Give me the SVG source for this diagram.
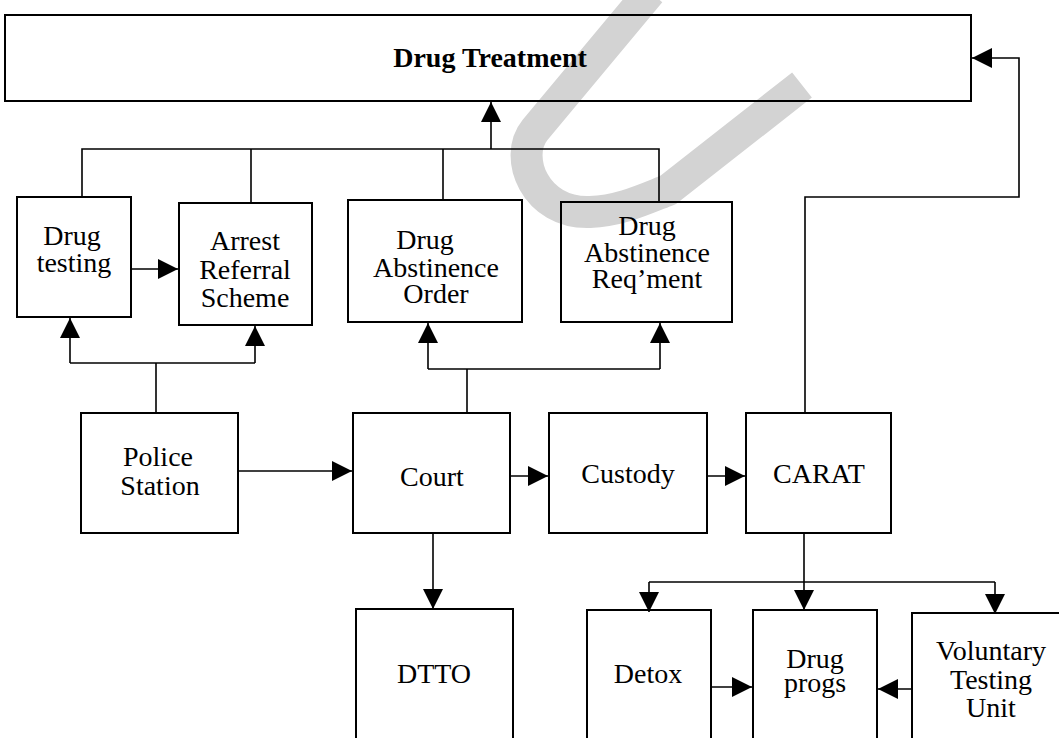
<svg xmlns="http://www.w3.org/2000/svg" width="1059" height="738" viewBox="0 0 1059 738">
<style>
.box{fill:none;stroke:#000;stroke-width:2}
.ln{fill:none;stroke:#000;stroke-width:1.6}
.ar{fill:none;stroke:#000;stroke-width:1.6;marker-end:url(#ah)}
text{font-family:"Liberation Serif","Times New Roman",serif;font-size:28px;fill:#000;text-anchor:middle}
.b{font-weight:bold}
</style>
<defs>
<marker id="ah" viewBox="0 0 20 20" refX="20" refY="10" markerWidth="20" markerHeight="20" markerUnits="userSpaceOnUse" orient="auto">
<path d="M0,0 L20,10 L0,20 z" fill="#000"/>
</marker>
</defs>
<rect width="1059" height="738" fill="#fff"/>
<path id="watermark" d="M 650,-8 L 535,130 C 513,157 535,214 590,212 C 620,211 645,199 668,190 L 802,85" fill="none" stroke="#d3d3d3" stroke-width="32"/>
<g id="connectors">
<polyline class="ln" points="82,197 82,149 659,149 659,202"/>
<line class="ln" x1="251" y1="149" x2="251" y2="203"/>
<line class="ln" x1="443" y1="149" x2="443" y2="200"/>
<line class="ar" x1="491" y1="149" x2="491" y2="102"/>
<line class="ln" x1="156" y1="413" x2="156" y2="363"/>
<line class="ln" x1="70" y1="363" x2="255" y2="363"/>
<line class="ar" x1="70" y1="363" x2="70" y2="318"/>
<line class="ar" x1="255" y1="363" x2="255" y2="326"/>
<line class="ln" x1="467" y1="413" x2="467" y2="369"/>
<line class="ln" x1="428" y1="369" x2="660" y2="369"/>
<line class="ar" x1="428" y1="369" x2="428" y2="323"/>
<line class="ar" x1="660" y1="369" x2="660" y2="323"/>
<line class="ar" x1="132" y1="269" x2="178" y2="269"/>
<line class="ar" x1="238" y1="471" x2="352" y2="471"/>
<line class="ar" x1="510" y1="476" x2="548" y2="476"/>
<line class="ar" x1="707" y1="476" x2="745" y2="476"/>
<polyline class="ar" points="805,413 805,197 1019,197 1019,58 972,58"/>
<line class="ar" x1="433" y1="533" x2="433" y2="609"/>
<line class="ar" x1="804" y1="533" x2="804" y2="610"/>
<line class="ln" x1="649" y1="582" x2="995" y2="582"/>
<line class="ar" x1="649" y1="582" x2="649" y2="612"/>
<line class="ar" x1="995" y1="582" x2="995" y2="614"/>
<line class="ar" x1="711" y1="687" x2="752" y2="687"/>
<line class="ar" x1="912" y1="689" x2="878" y2="689"/>
</g>
<g id="drug-treatment">
<rect class="box" x="5" y="15" width="966" height="86"/>
<text class="b" x="490" y="67">Drug Treatment</text>
</g>
<g id="drug-testing">
<rect class="box" x="17" y="197" width="114" height="120"/>
<text x="72" y="245">Drug</text>
<text x="74" y="272">testing</text>
</g>
<g id="arrest-referral">
<rect class="box" x="179" y="203" width="133" height="122"/>
<text x="245" y="250">Arrest</text>
<text x="245" y="279">Referral</text>
<text x="245" y="307">Scheme</text>
</g>
<g id="dao">
<rect class="box" x="348" y="200" width="174" height="122"/>
<text x="425" y="249">Drug</text>
<text x="436" y="277">Abstinence</text>
<text x="436" y="303">Order</text>
</g>
<g id="dar">
<rect class="box" x="561" y="202" width="171" height="120"/>
<text x="647" y="235">Drug</text>
<text x="647" y="262">Abstinence</text>
<text x="647" y="288">Req’ment</text>
</g>
<g id="police">
<rect class="box" x="81" y="413" width="157" height="120"/>
<text x="158" y="466">Police</text>
<text x="160" y="495">Station</text>
</g>
<g id="court">
<rect class="box" x="353" y="413" width="157" height="120"/>
<text x="432" y="486">Court</text>
</g>
<g id="custody">
<rect class="box" x="549" y="413" width="158" height="120"/>
<text x="628" y="483">Custody</text>
</g>
<g id="carat">
<rect class="box" x="746" y="413" width="145" height="120"/>
<text x="819" y="483">CARAT</text>
</g>
<g id="dtto">
<rect class="box" x="356" y="609" width="157" height="140"/>
<text x="434" y="683">DTTO</text>
</g>
<g id="detox">
<rect class="box" x="587" y="610" width="124" height="140"/>
<text x="648" y="683">Detox</text>
</g>
<g id="drug-progs">
<rect class="box" x="753" y="610" width="124" height="140"/>
<text x="815" y="668">Drug</text>
<text x="815" y="692">progs</text>
</g>
<g id="voluntary">
<rect class="box" x="912" y="613" width="160" height="140"/>
<text x="991" y="660">Voluntary</text>
<text x="991" y="689">Testing</text>
<text x="991" y="717">Unit</text>
</g>
</svg>
